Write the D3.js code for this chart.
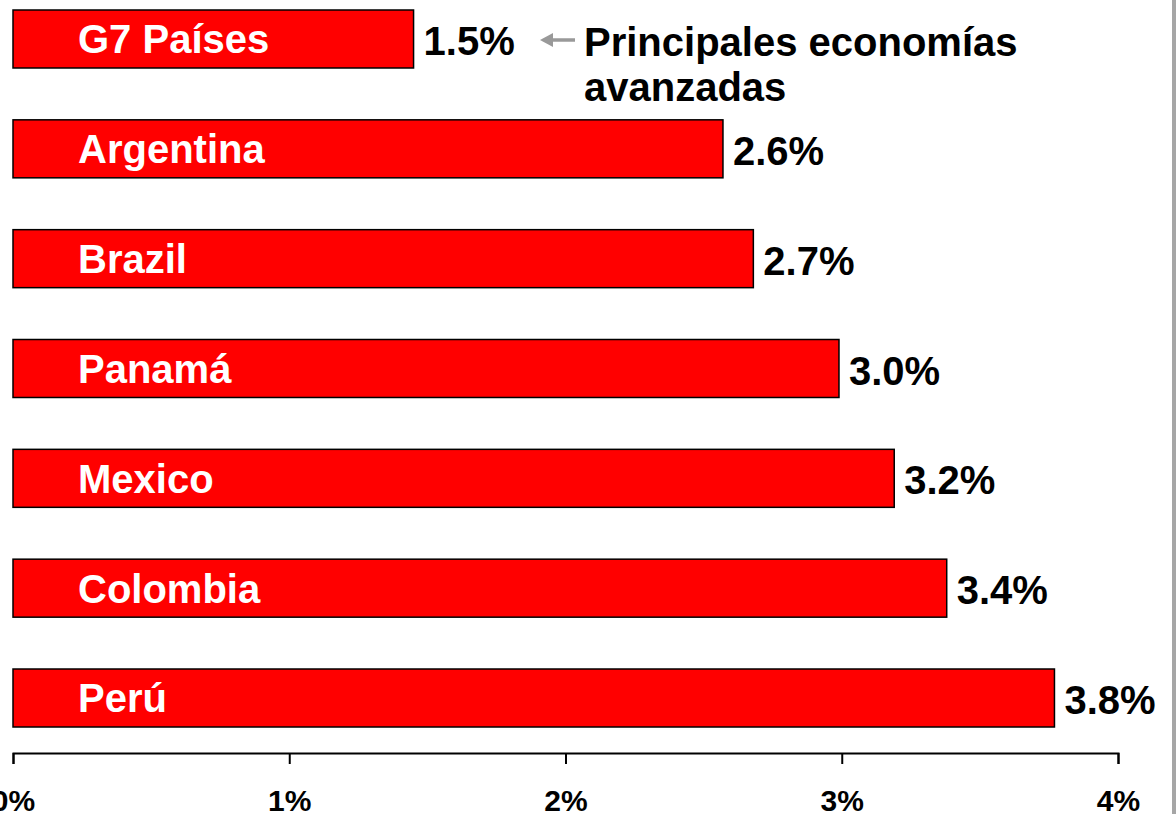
<!DOCTYPE html>
<html>
<head>
<meta charset="utf-8">
<script src="https://cdn.jsdelivr.net/npm/d3@7"></script>
<style>
  html, body { margin: 0; padding: 0; background: #fff; overflow: hidden; }
  svg { display: block; font-family: "Liberation Sans", Arial, sans-serif; font-weight: bold; }
</style>
</head>
<body>
<svg id="chart" width="1176" height="814"></svg>
<script>
const categories = ["G7 Países", "Argentina", "Brazil", "Panamá", "Mexico", "Colombia", "Perú"];
const values = [1.45, 2.57, 2.68, 2.99, 3.19, 3.38, 3.77];
const valueLabels = ["1.5%", "2.6%", "2.7%", "3.0%", "3.2%", "3.4%", "3.8%"];
const tickValues = [0, 1, 2, 3, 4];
const tickLabels = ["0%", "1%", "2%", "3%", "4%"];
const annotationLines = ["Principales economías", "avanzadas"];

const svg = d3.select("#chart");

const x = d3.scaleLinear().domain([0, 4]).range([13, 1118]);
const y = d3.scaleBand().domain(categories).range([10, 727]).paddingInner(0.472).paddingOuter(0);

// right gray border strip
svg.append("rect").attr("x", 1172).attr("y", 0).attr("width", 4).attr("height", 814).attr("fill", "#a6a6a6");

// bars
svg.selectAll("rect.bar").data(categories).enter().append("rect")
  .attr("class", "bar")
  .attr("x", x(0))
  .attr("y", d => y(d))
  .attr("width", (d, i) => x(values[i]) - x(0))
  .attr("height", y.bandwidth())
  .attr("fill", "#ff0000")
  .attr("stroke", "#000")
  .attr("stroke-width", 1.5);

// category labels inside bars
svg.selectAll("text.cat").data(categories).enter().append("text")
  .attr("class", "cat")
  .attr("x", x(0) + 65)
  .attr("y", d => y(d) + y.bandwidth() / 2)
  .attr("dy", "0.36em")
  .attr("fill", "#fff")
  .attr("font-size", 40)
  .text(d => d);

// value labels
svg.selectAll("text.val").data(categories).enter().append("text")
  .attr("class", "val")
  .attr("x", (d, i) => x(values[i]) + 10)
  .attr("y", d => y(d) + y.bandwidth() / 2)
  .attr("dy", "0.4em")
  .attr("fill", "#000")
  .attr("font-size", 40)
  .text((d, i) => valueLabels[i]);

// annotation arrow
const g7y = y(categories[0]) + y.bandwidth() / 2 + 1;
const ax1 = 575, ax0 = 540;
svg.append("line").attr("x1", ax1).attr("x2", ax0 + 10).attr("y1", g7y).attr("y2", g7y)
  .attr("stroke", "#999").attr("stroke-width", 3.5);
svg.append("path")
  .attr("d", `M${ax0},${g7y} L${ax0 + 13},${g7y - 7} L${ax0 + 13},${g7y + 7} Z`)
  .attr("fill", "#999");

// annotation text
svg.selectAll("text.ann").data(annotationLines).enter().append("text")
  .attr("class", "ann")
  .attr("x", 584)
  .attr("y", (d, i) => 56 + i * 45)
  .attr("fill", "#000")
  .attr("font-size", 40)
  .text(d => d);

// x axis
const axis = d3.axisBottom(x).tickValues(tickValues).tickFormat((d, i) => tickLabels[i]).tickSize(11).tickPadding(26);
const gx = svg.append("g").attr("transform", "translate(0,753)").call(axis);
gx.select(".domain").attr("stroke", "#000").attr("stroke-width", 2);
gx.selectAll(".tick line").attr("stroke", "#000").attr("stroke-width", 2);
gx.selectAll(".tick text").attr("font-size", 30).attr("font-family", "Liberation Sans, Arial, sans-serif")
  .attr("font-weight", "bold").attr("fill", "#000");
</script>
</body>
</html>
